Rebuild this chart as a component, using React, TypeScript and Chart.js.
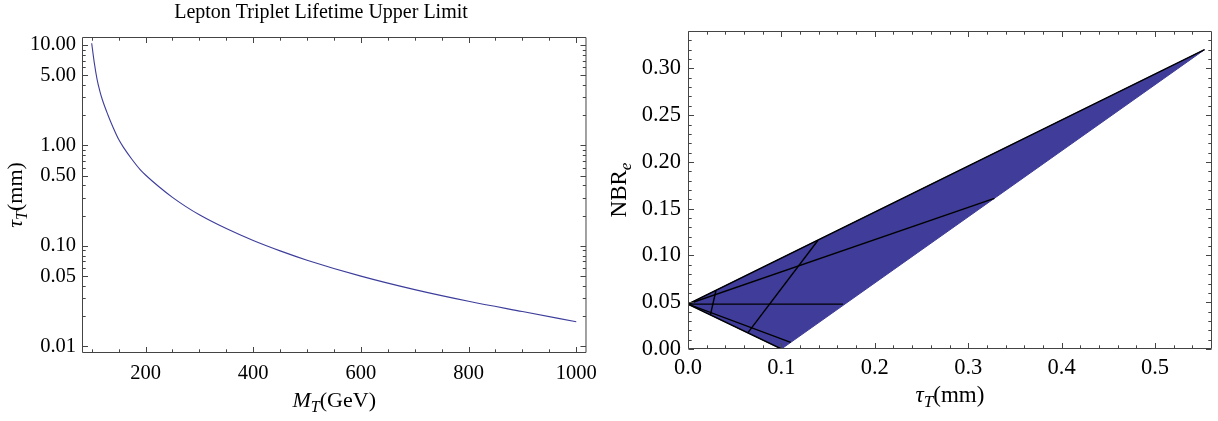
import React, { useEffect, useRef } from 'react';
import { Chart, registerables } from 'chart.js';
Chart.register(...registerables);

// ---------- Left panel: lifetime upper limit ----------
const massGeV = [100, 105, 110, 115, 120, 130, 140, 150, 160, 175, 190, 200, 225, 250, 275, 300, 350, 400, 450, 500, 600, 700, 800, 900, 1000];
const lifetimeMm = [10.4, 6.55, 4.55, 3.5, 2.83, 2.02, 1.5, 1.15, 0.94, 0.725, 0.575, 0.508, 0.388, 0.304, 0.246, 0.204, 0.1486, 0.1131, 0.0892, 0.0721, 0.05, 0.0367, 0.0281, 0.0222, 0.0176];

const leftXTicks = [200, 400, 600, 800, 1000];
const leftXMinor = [100, 150, 250, 300, 350, 450, 500, 550, 650, 700, 750, 850, 900, 950];
const leftYTicks = [0.01, 0.05, 0.1, 0.5, 1, 5, 10];
const leftYMinor = [0.02, 0.03, 0.04, 0.06, 0.07, 0.08, 0.09, 0.2, 0.3, 0.4, 0.6, 0.7, 0.8, 0.9, 2, 3, 4, 6, 7, 8, 9];

// ---------- Right panel: allowed region ----------
const regionTau = [0, 0.1, 0.553, 0];
const regionNbr = [0.048, 0, 0.32, 0.048];
const upperEdgeTau = [0, 0.553];
const upperEdgeNbr = [0.048, 0.32];
const lowerEdgeTau = [0, 0.1];
const lowerEdgeNbr = [0.048, 0];
const contourATau = [0, 0.166];
const contourANbr = [0.048, 0.048];
const contourBTau = [0, 0.328];
const contourBNbr = [0.048, 0.161];
const contourCTau = [0, 0.11];
const contourCNbr = [0.048, 0.0071];
const contourDTau = [0.064, 0.139];
const contourDNbr = [0.0173, 0.116];
const contourETau = [0.024, 0.03];
const contourENbr = [0.0365, 0.0628];

const rightXTicks = [0, 0.1, 0.2, 0.3, 0.4, 0.5];
const rightXMinor = [0.02, 0.04, 0.06, 0.08, 0.12, 0.14, 0.16, 0.18, 0.22, 0.24, 0.26, 0.28, 0.32, 0.34, 0.36, 0.38, 0.42, 0.44, 0.46, 0.48, 0.52, 0.54];
const rightYTicks = [0, 0.05, 0.1, 0.15, 0.2, 0.25, 0.3];
const rightYMinor = [0.01, 0.02, 0.03, 0.04, 0.06, 0.07, 0.08, 0.09, 0.11, 0.12, 0.13, 0.14, 0.16, 0.17, 0.18, 0.19, 0.21, 0.22, 0.23, 0.24, 0.26, 0.27, 0.28, 0.29, 0.31, 0.32, 0.33];

const FONT = '"Liberation Serif", "Times New Roman", serif';
const FILL = '#3f3d99';
const LINE = '#3d3d9c';
const FRAME = '#444444';

type Part = { t: string; it?: boolean; sub?: boolean };

function drawRich(ctx: CanvasRenderingContext2D, parts: Part[], x: number, y: number, size: number, rotate: boolean) {
  ctx.save();
  ctx.translate(x, y);
  if (rotate) ctx.rotate(-Math.PI / 2);
  const fontOf = (p: Part) => `${p.it ? 'italic ' : ''}${p.sub ? Math.round(size * 0.72) : size}px ${FONT}`;
  let total = 0;
  const widths = parts.map((p) => {
    ctx.font = fontOf(p);
    const w = ctx.measureText(p.t).width;
    total += w;
    return w;
  });
  let cx = -total / 2;
  ctx.textBaseline = 'alphabetic';
  ctx.textAlign = 'left';
  ctx.fillStyle = '#000';
  parts.forEach((p, i) => {
    ctx.font = fontOf(p);
    ctx.fillText(p.t, cx, p.sub ? size * 0.22 : 0);
    cx += widths[i];
  });
  ctx.restore();
}

function drawFrame(chart: any, xMajor: number[], xMinor: number[], yMajor: number[], yMinor: number[]) {
  const { ctx, chartArea: a } = chart;
  const xs = chart.scales.x;
  const ys = chart.scales.y;
  const L = a.left + 0.5, R = a.right - 0.5, T = a.top + 0.5, B = a.bottom - 0.5;
  ctx.save();
  ctx.strokeStyle = FRAME;
  ctx.lineWidth = 1;
  ctx.beginPath();
  ctx.rect(L, T, R - L, B - T);
  const vx = (v: number, len: number) => {
    const p = Math.round(xs.getPixelForValue(v)) + 0.5;
    ctx.moveTo(p, B); ctx.lineTo(p, B - len);
    ctx.moveTo(p, T); ctx.lineTo(p, T + len);
  };
  const vy = (v: number, len: number) => {
    const p = Math.round(ys.getPixelForValue(v)) + 0.5;
    ctx.moveTo(L, p); ctx.lineTo(L + len, p);
    ctx.moveTo(R, p); ctx.lineTo(R - len, p);
  };
  xMajor.forEach((v) => vx(v, 5.5));
  xMinor.forEach((v) => vx(v, 3.2));
  yMajor.forEach((v) => vy(v, 5.5));
  yMinor.forEach((v) => vy(v, 3.2));
  ctx.stroke();
  ctx.restore();
}

const pts = (xs: number[], ys: number[]) => xs.map((x, i) => ({ x, y: ys[i] }));

function LeftChart() {
  const ref = useRef<HTMLCanvasElement>(null);
  useEffect(() => {
    const decor = {
      id: 'decorLeft',
      afterDraw(chart: any) {
        const { ctx, chartArea: a } = chart;
        drawFrame(chart, leftXTicks, leftXMinor, leftYTicks, leftYMinor);
        ctx.save();
        ctx.font = `20px ${FONT}`;
        ctx.fillStyle = '#000';
        ctx.textAlign = 'center';
        ctx.textBaseline = 'alphabetic';
        ctx.fillText('Lepton Triplet Lifetime Upper Limit', 321, 18);
        ctx.restore();
        drawRich(ctx, [{ t: 'M', it: true }, { t: 'T', it: true, sub: true }, { t: '(GeV)' }], (a.left + a.right) / 2, 407, 22, false);
        drawRich(ctx, [{ t: 'τ', it: true }, { t: 'T', it: true, sub: true }, { t: '(mm)' }], 22, (a.top + a.bottom) / 2, 22, true);
      },
    };
    const chart = new Chart(ref.current!, {
      type: 'scatter',
      data: {
        datasets: [
          {
            data: pts(massGeV, lifetimeMm),
            showLine: true,
            borderColor: LINE,
            borderWidth: 1.1,
            pointRadius: 0,
            cubicInterpolationMode: 'monotone',
          },
        ],
      },
      options: {
        animation: false,
        responsive: false,
        devicePixelRatio: 1,
        layout: { padding: { top: 37, right: 12, bottom: 18, left: 0 } },
        plugins: { legend: { display: false }, tooltip: { enabled: false } },
        scales: {
          x: {
            type: 'linear',
            min: 82,
            max: 1019,
            grid: { display: false, drawTicks: false },
            border: { display: false },
            afterBuildTicks: (s: any) => { s.ticks = leftXTicks.map((v) => ({ value: v })); },
            afterFit: (s: any) => { s.height = 50; },
            ticks: { autoSkip: false, maxRotation: 0, padding: 8, color: '#000', font: { family: FONT, size: 20.5 }, callback: (v: any) => String(v) },
          },
          y: {
            type: 'logarithmic',
            min: 0.00859,
            max: 12,
            grid: { display: false, drawTicks: false },
            border: { display: false },
            afterBuildTicks: (s: any) => { s.ticks = leftYTicks.map((v) => ({ value: v })); },
            afterFit: (s: any) => { s.width = 82; },
            ticks: { autoSkip: false, padding: 6, color: '#000', font: { family: FONT, size: 20.5 }, callback: (v: any) => Number(v).toFixed(2) },
          },
        },
      } as any,
      plugins: [decor],
    });
    return () => chart.destroy();
  }, []);
  return <canvas ref={ref} width={605} height={421} style={{ position: 'absolute', left: 0, top: 0, width: 605, height: 421 }} />;
}

function RightChart() {
  const ref = useRef<HTMLCanvasElement>(null);
  useEffect(() => {
    const decor = {
      id: 'decorRight',
      afterDraw(chart: any) {
        const { ctx, chartArea: a } = chart;
        drawFrame(chart, rightXTicks, rightXMinor, rightYTicks, rightYMinor);
        drawRich(ctx, [{ t: 'τ', it: true }, { t: 'T', it: true, sub: true }, { t: '(mm)' }], (a.left + a.right) / 2, 402, 23, false);
        drawRich(ctx, [{ t: 'NBR' }, { t: 'e', it: true, sub: true }], 16, (a.top + a.bottom) / 2, 23, true);
      },
    };
    const black = (xs: number[], ys: number[]) => ({
      data: pts(xs, ys),
      showLine: true,
      borderColor: '#000',
      borderWidth: 1.4,
      pointRadius: 0,
      fill: false,
      order: 0,
    });
    const chart = new Chart(ref.current!, {
      type: 'scatter',
      data: {
        datasets: [
          {
            data: pts(regionTau, regionNbr),
            showLine: true,
            borderColor: FILL,
            borderWidth: 1,
            backgroundColor: FILL,
            pointRadius: 0,
            fill: 'shape',
            order: 5,
          },
          black(upperEdgeTau, upperEdgeNbr),
          black(lowerEdgeTau, lowerEdgeNbr),
          black(contourATau, contourANbr),
          black(contourBTau, contourBNbr),
          black(contourCTau, contourCNbr),
          black(contourDTau, contourDNbr),
          black(contourETau, contourENbr),
        ],
      },
      options: {
        animation: false,
        responsive: false,
        devicePixelRatio: 1,
        layout: { padding: { top: 31, right: 6, bottom: 22, left: 0 } },
        plugins: { legend: { display: false }, tooltip: { enabled: false } },
        scales: {
          x: {
            type: 'linear',
            min: 0,
            max: 0.561,
            grid: { display: false, drawTicks: false },
            border: { display: false },
            afterBuildTicks: (s: any) => { s.ticks = rightXTicks.map((v) => ({ value: v })); },
            afterFit: (s: any) => { s.height = 50; },
            ticks: { autoSkip: false, maxRotation: 0, padding: 6, color: '#000', font: { family: FONT, size: 22.5 }, callback: (v: any) => Number(v).toFixed(1) },
          },
          y: {
            type: 'linear',
            min: 0,
            max: 0.34,
            grid: { display: false, drawTicks: false },
            border: { display: false },
            afterBuildTicks: (s: any) => { s.ticks = rightYTicks.map((v) => ({ value: v })); },
            afterFit: (s: any) => { s.width = 78; },
            ticks: { autoSkip: false, padding: 7, color: '#000', font: { family: FONT, size: 22.5 }, callback: (v: any) => Number(v).toFixed(2) },
          },
        },
      } as any,
      plugins: [decor],
    });
    return () => chart.destroy();
  }, []);
  return <canvas ref={ref} width={608} height={421} style={{ position: 'absolute', left: 610, top: 0, width: 608, height: 421 }} />;
}

export default function App() {
  return (
    <div style={{ position: 'absolute', left: 0, top: 0, width: 1218, height: 421, background: '#fff', overflow: 'hidden' }}>
      <LeftChart />
      <RightChart />
    </div>
  );
}
